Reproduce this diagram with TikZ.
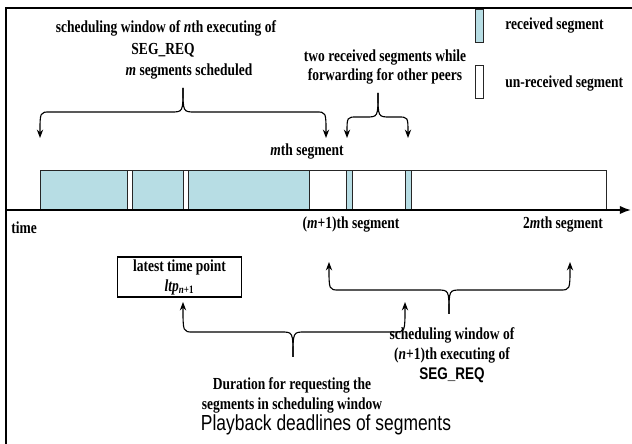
\documentclass[tikz,border=0pt]{standalone}
\usepackage{fontspec}
\setmainfont{Liberation Serif}[FakeStretch=0.8]
\setsansfont{Liberation Sans}[FakeStretch=0.8]
\usepackage{xcolor}
\usetikzlibrary{arrows.meta,calc}
\definecolor{recvblue}{RGB}{183,221,228}

\begin{document}
\begin{tikzpicture}[
    x=0.025cm, y=-0.025cm,
    lbl/.style={font=\fontsize{12}{14.2}\selectfont\bfseries, align=center, inner sep=0pt},
    segbox/.style={draw=black!85, line width=0.6pt},
    legbox/.style={draw=black!85, line width=0.6pt, minimum width=0.2cm, minimum height=0.82cm, inner sep=0pt},
    bracearr/.style={-{Stealth[length=6pt,width=4.5pt]}, line width=0.8pt},
    frame/.style={line width=1.8pt}
]
    \useasboundingbox (0,0) rectangle (632,444);
    \draw [frame] (6,444) -- (6,8) -- (632,8);

    % segments of the buffer
    \foreach \a/\b/\c in {40/127/recvblue, 127/132/white, 132/183/recvblue, 183/188/white,
                          188/309/recvblue, 309/346/white, 346/352/recvblue, 352/405/white,
                          405/411/recvblue, 411/606/white}
        \draw [segbox, fill=\c] (\a,170) rectangle (\b,210);

    % time axis
    \coordinate (t0) at (6,210);
    \coordinate (t1) at (631,210);
    \draw [-{Latex[length=8pt,width=6pt]}, line width=1.2pt] (t0) -- (t1);

    % legend
    \node [legbox, fill=recvblue] (lrecv) at (479,26) {};
    \node [legbox, fill=white] (lunrecv) at (479,82) {};
    \node [lbl, anchor=west] (lrecvtxt) at (505,26) {received segment};
    \node [lbl, anchor=west] (lunrecvtxt) at (505,84) {un-received segment};

    % labels
    \node [lbl] (win1a) at (166,28) {scheduling window of \textit{n}th executing of};
    \node [lbl] (win1b) at (163,50) {SEG\_REQ};
    \node [lbl] (win1c) at (189,72) {\textit{m} segments scheduled};
    \node [lbl] (fwd) at (385,67) {two received segments while\\forwarding for other peers};
    \node [lbl] (mth) at (307,152) {\textit{m}th segment};
    \node [lbl, anchor=west] (time) at (11,228) {time};
    \node [lbl] (m1th) at (351,225) {(\textit{m}+1)th segment};
    \node [lbl] (m2th) at (563,225) {2\textit{m}th segment};
    \node [lbl, draw, line width=0.8pt, minimum width=3.08cm, minimum height=1cm] (ltpbox) at (179.5,277)
        {latest time point\\\textit{ltp}\textsubscript{\textit{n}+1}};
    \node [lbl] (win2) at (452,355) {scheduling window of\\(\textit{n}+1)th executing of\\{\sffamily SEG\_REQ}};
    \node [lbl] (dur) at (292,395) {Duration for requesting the\\segments in scheduling window};
    \node [font=\sffamily\fontsize{15.5}{18}\selectfont, inner sep=0pt] (title) at (326,425) {Playback deadlines of segments};

    % brace coordinates
    \coordinate (tipA) at (183,88);  \coordinate (hA) at (0,112);
    \coordinate (aL) at (40,138);    \coordinate (aR) at (326,138);
    \coordinate (tipB) at (378,93);  \coordinate (hB) at (0,117);
    \coordinate (bL) at (347,138);   \coordinate (bR) at (408,138);
    \coordinate (tipC) at (449,314); \coordinate (hC) at (0,290);
    \coordinate (cL) at (329,262);   \coordinate (cR) at (570,262);
    \coordinate (tipD) at (293,357); \coordinate (hD) at (0,332);
    \coordinate (dL) at (183,302);   \coordinate (dR) at (405,302);

    % braces
    \draw [bracearr] (tipA) .. controls (tipA |- hA) .. ($(tipA |- hA)+(-12,0)$) -- ($(aL |- hA)+(10,0)$) .. controls (aL |- hA) .. (aL);
    \draw [bracearr] (tipA) .. controls (tipA |- hA) .. ($(tipA |- hA)+(12,0)$) -- ($(aR |- hA)+(-10,0)$) .. controls (aR |- hA) .. (aR);
    \draw [bracearr] (tipB) .. controls (tipB |- hB) .. ($(tipB |- hB)+(-12,0)$) -- ($(bL |- hB)+(10,0)$) .. controls (bL |- hB) .. (bL);
    \draw [bracearr] (tipB) .. controls (tipB |- hB) .. ($(tipB |- hB)+(12,0)$) -- ($(bR |- hB)+(-10,0)$) .. controls (bR |- hB) .. (bR);
    \draw [bracearr] (tipC) .. controls (tipC |- hC) .. ($(tipC |- hC)+(-12,0)$) -- ($(cL |- hC)+(10,0)$) .. controls (cL |- hC) .. (cL);
    \draw [bracearr] (tipC) .. controls (tipC |- hC) .. ($(tipC |- hC)+(12,0)$) -- ($(cR |- hC)+(-10,0)$) .. controls (cR |- hC) .. (cR);
    \draw [bracearr] (tipD) .. controls (tipD |- hD) .. ($(tipD |- hD)+(-12,0)$) -- ($(dL |- hD)+(10,0)$) .. controls (dL |- hD) .. (dL);
    \draw [bracearr] (tipD) .. controls (tipD |- hD) .. ($(tipD |- hD)+(12,0)$) -- ($(dR |- hD)+(-10,0)$) .. controls (dR |- hD) .. (dR);
\end{tikzpicture}
\end{document}
